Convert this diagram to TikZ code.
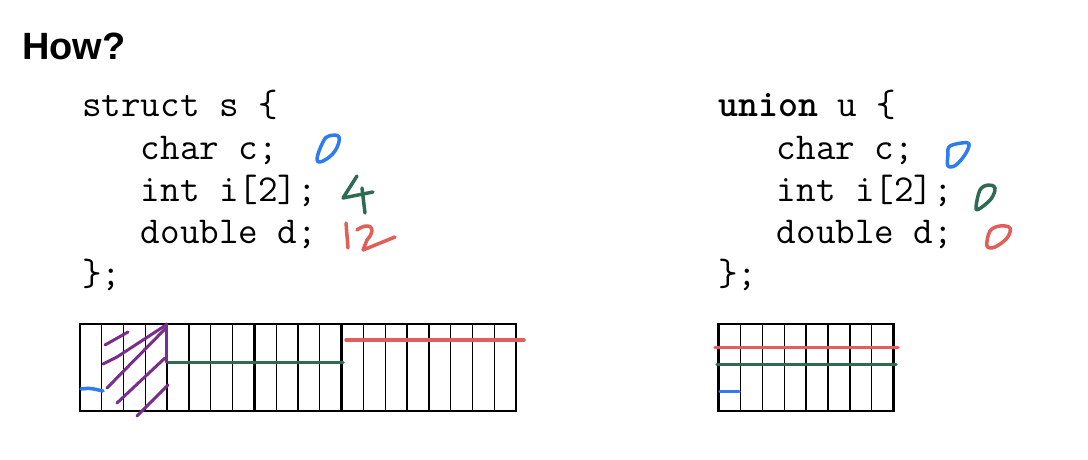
\documentclass[tikz,border=0pt]{standalone}
\usepackage{fontspec}
\setmainfont{Liberation Sans}
\definecolor{inkblue}{HTML}{2F7CF2}
\definecolor{inkgreen}{HTML}{2F6B52}
\definecolor{inkred}{HTML}{E25E58}
\definecolor{inkpurple}{HTML}{7A2D8C}
\begin{document}
\begin{tikzpicture}[x=1pt,y=-1pt,
  code/.style={anchor=base west,inner sep=0pt,font=\ttfamily\fontsize{38}{42}\selectfont\addfontfeature{LetterSpace=3}},
  title/.style={anchor=base west,inner sep=0pt,font=\bfseries\fontsize{38}{40}\selectfont},
  thin cell/.style={line width=1.2pt},
  thick cell/.style={line width=2.5pt},
  ink/.style={line width=3.5pt,line cap=round,line join=round},
]
\useasboundingbox (0,0) rectangle (1088,460);
\fill[white] (0,0) rectangle (1088,460);

\node[title] (how) at (22,60) {How?};

% struct code
\node[code] (s1) at (82,117) {struct s \{};
\node[code] (s2) at (82,159) {\ \ \ char c;};
\node[code] (s3) at (82,201) {\ \ \ int i[2];};
\node[code] (s4) at (82,243) {\ \ \ double d;};
\node[code] (s5) at (82,285) {\};};

% union code
\node[code] (u1) at (718,117) {\textbf{union} u \{};
\node[code] (u2) at (718,159) {\ \ \ char c;};
\node[code] (u3) at (718,201) {\ \ \ int i[2];};
\node[code] (u4) at (718,243) {\ \ \ double d;};
\node[code] (u5) at (718,285) {\};};

% struct memory grid
\foreach \i in {1,...,19} {
  \draw[thin cell] ({80+\i*21.8},324) -- ({80+\i*21.8},411);
}
\foreach \i in {1,...,4} {
  \draw[thick cell] ({80+\i*87.2},324) -- ({80+\i*87.2},411);
}
\draw[thick cell] (80,324) rectangle (516,411);

% union memory grid
\foreach \i in {1,...,7} {
  \draw[thin cell] ({718.5+\i*21.9},324) -- ({718.5+\i*21.9},411);
}
\draw[thick cell] (806,324) -- (806,411);
\draw[thick cell] (718.5,324) rectangle (893.5,411);

% struct annotations
\draw[ink,inkblue] plot[smooth cycle,tension=0.7] coordinates {(317,159) (323,142) (329,136) (339,137) (335,151) (323,161)};
\draw[ink,inkgreen] (357,176) -- (343,198) -- (373,192);
\draw[ink,inkgreen] (362,188) -- (365,213);
\draw[ink,inkred] (346,223) -- (348,248);
\draw[ink,inkred] (357,230) .. controls (369,221) and (378,228) .. (367,240) -- (363,250) -- (395,237);

% struct markings
\draw[ink,inkblue] (81,389) .. controls (90,388) .. (103,391);
\draw[ink,inkgreen] (168,362.5) -- (343,362.5);
\draw[ink,inkred] (346,340) -- (524,340);
\draw[ink,inkpurple,line width=3pt] (166.7,324) -- (166.7,362);
\draw[ink,inkpurple,line width=3pt] (105,345) -- (128,332);
\draw[ink,inkpurple,line width=3pt] (103,364) -- (117,357) -- (166,325);
\draw[ink,inkpurple,line width=3pt] (107,388) -- (165,329);
\draw[ink,inkpurple,line width=3pt] (117,403) -- (165,358);
\draw[ink,inkpurple,line width=3pt] (137,416) -- (168,385);

% union annotations
\draw[ink,inkblue] plot[smooth cycle,tension=0.6] coordinates {(950,146) (968,143) (966,153) (956,165) (948,166) (948,155)};
\draw[ink,inkgreen] plot[smooth cycle,tension=0.6] coordinates {(976,207) (980,190) (988,185) (995,188) (991,199) (979,209)};
\draw[ink,inkred] plot[smooth cycle,tension=0.6] coordinates {(987,246) (990,231) (1000,226) (1010,228) (1007,238) (995,247)};

% union markings
\draw[ink,inkred] (715,347.5) -- (898,347.5);
\draw[ink,inkgreen] (717,364.5) -- (896,364.5);
\draw[ink,inkblue] (720,391.5) -- (739,391.5);
\end{tikzpicture}
\end{document}
